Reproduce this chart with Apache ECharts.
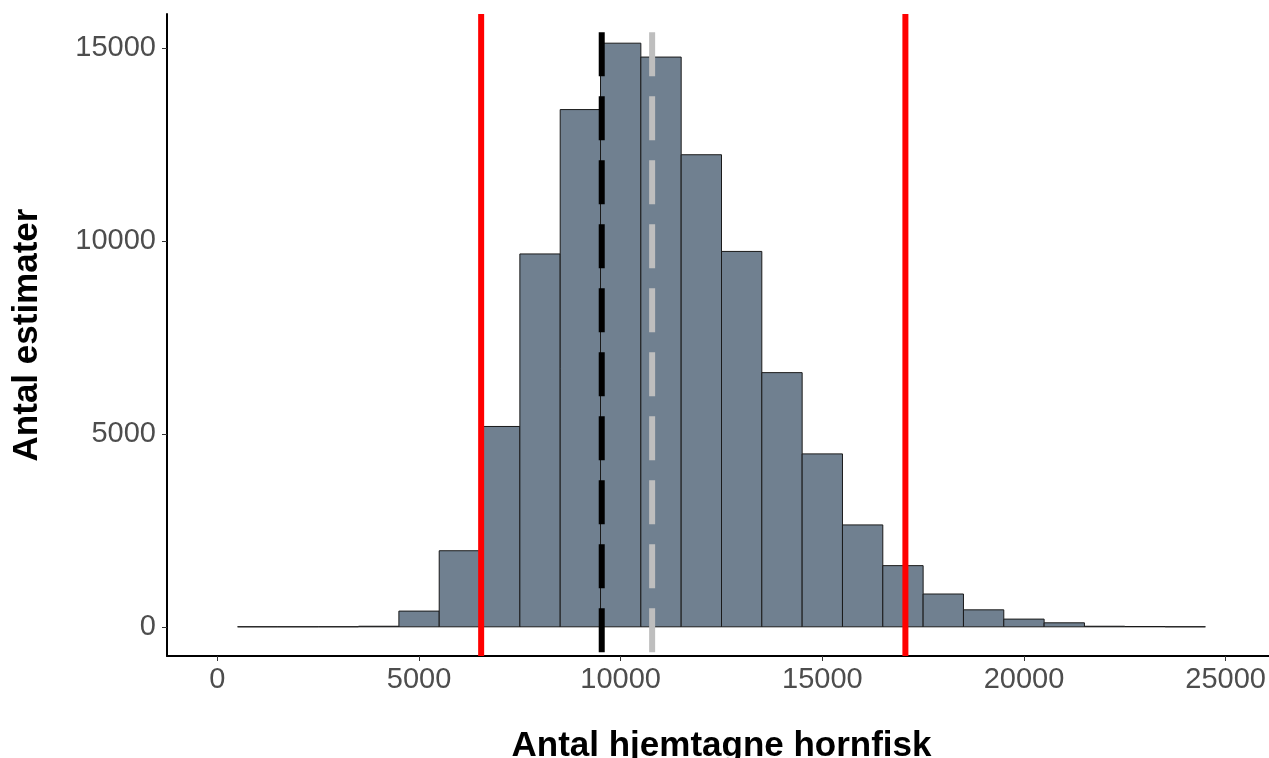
<!DOCTYPE html>
<html>
<head>
<meta charset="utf-8">
<script src="https://cdn.jsdelivr.net/npm/echarts@6/dist/echarts.min.js"></script>
<style>html,body{margin:0;padding:0;background:#fff}#c{width:1269px;height:758px}</style>
</head>
<body>
<div id="c"></div>
<script>
// Histogram bins (lower edges) and counts
const binStarts = [500,1500,2500,3500,4500,5500,6500,7500,8500,9500,10500,11500,12500,13500,14500,15500,16500,17500,18500,19500,20500,21500,22500,23500];
const binWidth = 1000;
const counts = [1,1,2,15,407,1971,5190,9660,13400,15120,14760,12230,9725,6585,4480,2640,1585,850,440,200,104,15,8,1];
// Reference lines
const redLines = [6540, 17060];
const blackDashed = [9530];
const grayDashed = [10780];
const dashedTop = 15400;
// Tick labels
const xTicks = [0,5000,10000,15000,20000,25000];
const yTicks = [0,5000,10000,15000];

const X_MIN = -1250, X_MAX = 26250;
const Y_MIN = -756, Y_MAX = 15876;

const chart = echarts.init(document.getElementById('c'), null, {renderer:'canvas'});
const FONT = 'Liberation Sans, Arial, sans-serif';

function vline(color, dash, width) {
  return function(params, api) {
    const x = api.value(0), top = api.value(1), bot = api.value(2);
    const p0 = api.coord([x, top]);
    const p1 = api.coord([x, bot]);
    return {type:'line', shape:{x1:p0[0], y1:p0[1], x2:p1[0], y2:p1[1]},
      style:{stroke:color, lineWidth:width, lineDash:dash, lineCap:'butt'}};
  };
}
const plain = v => String(v);

chart.setOption({
  animation:false,
  grid:{left:167, right:-7, top:14, bottom:102, containLabel:false, outerBoundsMode:'none'},
  xAxis:{type:'value', min:X_MIN, max:X_MAX,
    name:'Antal hjemtagne hornfisk', nameLocation:'middle', nameGap:73,
    nameTextStyle:{fontFamily:FONT, fontSize:35, fontWeight:'bold', color:'#000'},
    splitLine:{show:false},
    axisLine:{show:true, onZero:false, lineStyle:{color:'#000', width:2}},
    axisTick:{show:true, customValues:xTicks, length:5, lineStyle:{color:'#333', width:1}},
    axisLabel:{customValues:xTicks, formatter:plain, margin:9, fontFamily:FONT, fontSize:29, color:'#4D4D4D'}
  },
  yAxis:{type:'value', min:Y_MIN, max:Y_MAX,
    name:'Antal estimater', nameLocation:'middle', nameGap:122, nameRotate:90,
    nameTextStyle:{fontFamily:FONT, fontSize:35, fontWeight:'bold', color:'#000'},
    splitLine:{show:false},
    axisLine:{show:true, onZero:false, lineStyle:{color:'#000', width:2}},
    axisTick:{show:true, customValues:yTicks, length:5, lineStyle:{color:'#333', width:1}},
    axisLabel:{customValues:yTicks, formatter:plain, margin:11, fontFamily:FONT, fontSize:29, color:'#4D4D4D'}
  },
  series:[
    {type:'custom', clip:false,
      data: binStarts.map((s,i)=>[s, s+binWidth, counts[i]]),
      renderItem:function(params, api){
        const x0=api.value(0), x1=api.value(1), c=api.value(2);
        const p0=api.coord([x0,0]), p1=api.coord([x1,c]);
        return {type:'rect', shape:{x:p0[0], y:p1[1], width:p1[0]-p0[0], height:p0[1]-p1[1]},
          style:{fill:'#708090', stroke:'#1a1a1a', lineWidth:1}};
      }
    },
    {type:'custom', clip:false, data: redLines.map(x=>[x, Y_MAX, Y_MIN]), renderItem: vline('#FF0000', null, 6)},
    {type:'custom', clip:false, data: blackDashed.map(x=>[x, dashedTop, Y_MIN]), renderItem: vline('#000000', [44,20], 6)},
    {type:'custom', clip:false, data: grayDashed.map(x=>[x, dashedTop, Y_MIN]), renderItem: vline('#BEBEBE', [44,20], 6)}
  ]
});
</script>
</body>
</html>
